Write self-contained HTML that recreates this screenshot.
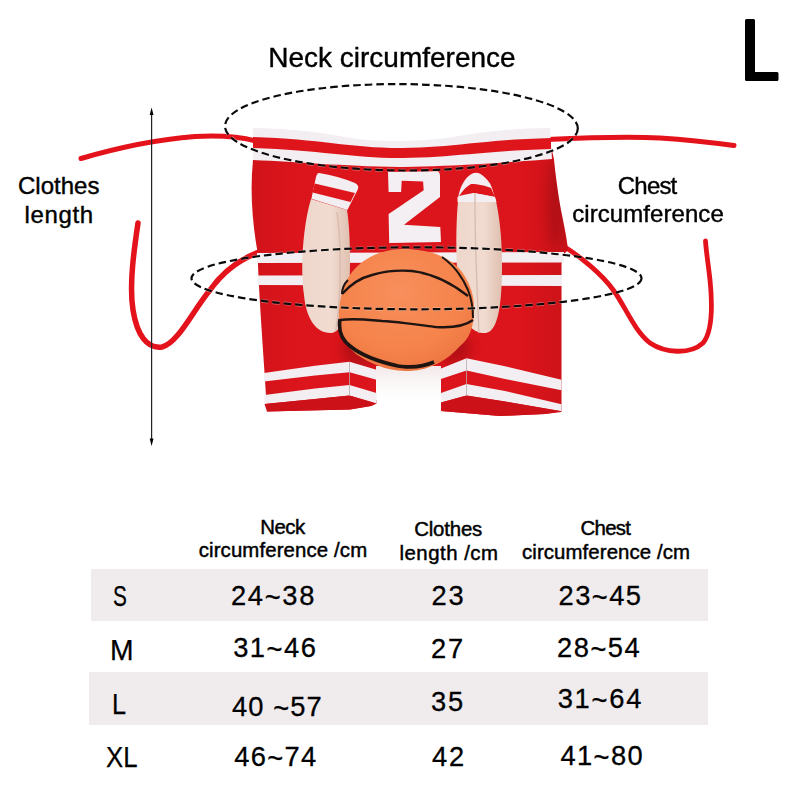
<!DOCTYPE html>
<html><head><meta charset="utf-8">
<style>
html,body{margin:0;padding:0;background:#fff;}
body{width:800px;height:800px;position:relative;overflow:hidden;font-family:"Liberation Sans",sans-serif;color:#000;}
.t{position:absolute;white-space:pre;line-height:1;-webkit-text-stroke:0.35px #000;}
.tl{position:relative;top:2px;}
.stripe{position:absolute;background:#f0ecee;}
svg{position:absolute;left:0;top:0;}
</style></head><body>
<div class="stripe" style="left:91px;top:569px;width:617px;height:52px;"></div>
<div class="stripe" style="left:89px;top:672px;width:619px;height:52.5px;"></div>
<svg width="800" height="800" viewBox="0 0 800 800">
  <defs>
    <radialGradient id="ballg" cx="0.45" cy="0.35" r="0.7">
      <stop offset="0" stop-color="#f88f5c"/>
      <stop offset="0.7" stop-color="#f5824a"/>
      <stop offset="1" stop-color="#ec7440"/>
    </radialGradient>
    <linearGradient id="skinL" x1="0" y1="0" x2="1" y2="0">
      <stop offset="0" stop-color="#eed6cb"/>
      <stop offset="0.6" stop-color="#f1dbd0"/>
      <stop offset="1" stop-color="#dfc0b0"/>
    </linearGradient>
    <linearGradient id="bodyshade" x1="0" y1="0" x2="1" y2="0">
      <stop offset="0" stop-color="#000" stop-opacity="0.05"/>
      <stop offset="0.15" stop-color="#000" stop-opacity="0"/>
      <stop offset="0.85" stop-color="#000" stop-opacity="0"/>
      <stop offset="1" stop-color="#000" stop-opacity="0.08"/>
    </linearGradient>
    <linearGradient id="crotch" x1="0" y1="0" x2="0" y2="1">
      <stop offset="0" stop-color="#f3e9e9"/>
      <stop offset="0.5" stop-color="#fbf7f7"/>
      <stop offset="1" stop-color="#ffffff"/>
    </linearGradient>
    <filter id="blur6" x="-50%" y="-50%" width="200%" height="200%"><feGaussianBlur stdDeviation="6"/></filter>
    <clipPath id="bodyclip"><path d="M253,150 L552,150 L554,159.5 C556,180 559,200 562,215 C565,230 567,240 568,250 L562,256 L561.5,265 L561.5,412 L545,414 L500,416 L441,411 L441,372 L376.5,369 L376.5,403.4 L371,406 L350,409.5 L267,411.5 C264,360 259,300 257.5,252 C252,220 250,190 253,160 Z"/></clipPath>
  </defs>
  <!-- left top cord -->
  <path d="M81,158.5 C110,150 150,140 195,136.5 C225,135 245,138 256,141" fill="none" stroke="#e3121b" stroke-width="5" stroke-linecap="round"/>
  <!-- right top cord -->
  <path d="M548,139.5 C590,137.5 630,136.5 660,138 C690,140 715,143 734,145.5" fill="none" stroke="#e3121b" stroke-width="5" stroke-linecap="round"/>
  <!-- left lower cord -->
  <path d="M138,223 C134,250 129,285 133,310 C137,335 147,349 162,347 C178,343 192,312 210,290 C222,273 238,260 259,252" fill="none" stroke="#e3121b" stroke-width="5.5" stroke-linecap="round"/>
  <!-- right lower cord -->
  <path d="M560,244 C580,256 602,274 614,291 C626,308 634,330 650,343 C665,353 690,355 703,343 C713,331 712,300 710,280 C708,262 706,250 705.5,241" fill="none" stroke="#e3121b" stroke-width="4.8" stroke-linecap="round"/>

  <!-- costume body -->
  <path d="M253,150 L552,150 L554,159.5 C556,180 559,200 562,215 C565,230 567,240 568,250 L562,256 L561.5,265 L561.5,412 L545,414 L500,416 L441,411 L441,372 L376.5,369 L376.5,403.4 L371,406 L350,409.5 L267,411.5 C264,360 259,300 257.5,252 C252,220 250,190 253,160 Z" fill="#dc141b"/>
  <path d="M253,150 L552,150 L554,159.5 C556,180 559,200 562,215 C565,230 567,240 568,250 L562,256 L561.5,265 L561.5,412 L545,414 L500,416 L441,411 L441,372 L376.5,369 L376.5,403.4 L371,406 L350,409.5 L267,411.5 C264,360 259,300 257.5,252 C252,220 250,190 253,160 Z" fill="url(#bodyshade)"/>
  <!-- crotch pale -->
  <path d="M376,366 L441,366 L441,400 L376,400 Z" fill="url(#crotch)"/>
  <g clip-path="url(#bodyclip)"><g filter="url(#blur6)">
    <ellipse cx="360" cy="350" rx="18" ry="16" fill="#000" opacity="0.18"/>
    <ellipse cx="455" cy="348" rx="16" ry="16" fill="#000" opacity="0.18"/>
    <ellipse cx="556" cy="205" rx="9" ry="45" fill="#000" opacity="0.14"/>
  </g></g>
  <!-- top band white -->
  <path d="M253,128 C290,128.5 325,133 345,137 C365,141 385,141 400,141 C420,141 445,139 465,135 C490,131 520,128 550,128 L552,159 C500,163 460,166 400,167 C340,166 300,162 253,160 Z" fill="#f3eef1"/>
  <!-- top band red stripe -->
  <path d="M253,137 C320,139 350,148 400,148 C450,148 480,140 551,138 L551,149 C480,151 450,158 400,158 C350,158 320,150 253,148 Z" fill="#de161c"/>
  <!-- waist bands -->
  <path d="M257,253 L564,252 L564,262.5 L257,263 Z" fill="#f3eef1"/>
  <path d="M258,275.5 L562,275 L562,286 L258,285 Z" fill="#f3eef1"/>
  <!-- left leg cuff -->
  <path d="M264,373 L315,365.75 L349.5,361.8 L376.5,369.7 L376.5,379.75 L349.5,372.3 L315,375.4 L264,381.5 Z" fill="#f3eef1"/>
  <path d="M264.5,395 L315,388.5 L349.5,385 L376.5,392.9 L376.5,403.4 L349.5,395.5 L315,399 L264.5,404 Z" fill="#f3eef1"/>
  <path d="M264.5,404 L315,399 L349.5,395.5 L376.5,403.4 L371,406 L350,409.5 L267,411.5 Z" fill="#cc1119"/>
  <path d="M349.5,362 L349.5,396" stroke="#b9a9ad" stroke-width="0.8"/>
  <!-- right leg cuff -->
  <path d="M441,368.4 L466.5,358.3 L505,366.2 L561.5,379.75 L561.5,390.25 L505,378.9 L466.5,370.6 L441,378.9 Z" fill="#f3eef1"/>
  <path d="M441,392.9 L466.5,384 L505,391.1 L561.5,404.25 L561.5,411.25 L505,401.6 L466.5,395.5 L441,402.5 Z" fill="#f3eef1"/>
  <path d="M441,402.5 L466.5,395.5 L505,401.6 L561.5,411.25 L545,414 L500,416 L441,411 Z" fill="#cc1119"/>
  <path d="M466.5,358.5 L466.5,396" stroke="#b9a9ad" stroke-width="0.8"/>

  <!-- number 2 -->
  <path d="M388,172 L437,171.3 Q440,172 440,176 L440,197 L404,224.7 L440.3,227 L441,242 L389.2,243 L388.6,214 L423.7,190.3 L423.1,181.4 L401.7,180.8 L401.1,192 L388.6,192 Z" fill="#f4eff2"/>

  <!-- left arm skin -->
  <path d="M311,199 C303,225 300,270 304,295 C306,318 316,334 332,333 C346,330 350,300 350,262 C350,240 349,222 347,210 Z" fill="url(#skinL)"/>
  <path d="M337,212 C341,240 342,290 336,330" fill="none" stroke="#d8bcae" stroke-width="1.5"/>
  <!-- left arm cuff -->
  <path d="M319,173 Q338,176 355,183 Q360,186 357.5,190 L347.4,210 L311.4,198.75 L316,177 Q317,173 319,173 Z" fill="#f3eef1"/>
  <path d="M314.6,183.5 L355,193 L350.5,202 L312.6,192.5 Z" fill="#de161c"/>
  <!-- right arm skin -->
  <path d="M458,201 C455,235 456,280 461,305 C464,322 472,334 486,333 C499,331 502,300 502,265 C502,235 499,215 496,201 Z" fill="url(#skinL)"/>
  <!-- right arm cuff -->
  <path d="M458,199 C459,190 463,180 470,175 C474,172 478,172 482,175 C486,178 490,182 492,188 L496,201 L458,201 Z" fill="#f3eef1"/>
  <path d="M459,196 C463,190 467,186 471,184 C478,184 486,186 491,188 L495,197 C488,196 480,194 474,193 C468,194 463,195 459,196 Z" fill="#de161c"/>
  <path d="M457.5,197 C463,196 468,195 474,193 C481,194 489,196 495,197 L496.5,202 L457.5,202 Z" fill="#f3eef1"/>
  <path d="M475,193 L475,202 C475,240 477,290 479,333" stroke="#d6bcae" stroke-width="1.3" fill="none"/>
  <!-- basketball -->
  <path d="M404,249 C430,249 452,258 462,272 C472,286 475,300 474,314 C473,330 468,340 460,346 C448,360 430,370 410,371 C390,372 370,364 356,354 C345,344 339,334 339,322 C338,305 342,288 348,278 C360,258 382,249 404,249 Z" fill="url(#ballg)"/>
  <path d="M342,294 C350,285 360,278 372,275 C385,271 400,270 412,271 C430,273 450,282 468,296" fill="none" stroke="#1e1412" stroke-width="2.4"/>
  <path d="M340,320 C355,318 370,320 382,321 C400,322 420,325 436,327 C452,328 465,326 473,320" fill="none" stroke="#1e1412" stroke-width="2.4"/>
  <path d="M340,319 C338,332 342,340 350,346 C362,356 380,362 398,366 C412,368 425,366 434,362" fill="none" stroke="#1e1412" stroke-width="3.6"/>
  <path d="M442,257 C452,264 462,276 468,290 C472,300 473,310 473,318" fill="none" stroke="#1e1412" stroke-width="2"/>
  <path d="M348,280 C344,284 342,290 342,294" fill="none" stroke="#1e1412" stroke-width="2"/>

  <!-- neck ellipse -->
  <ellipse cx="401.4" cy="127.3" rx="176.4" ry="43.2" transform="rotate(0.4 401.4 127.3)" fill="none" stroke="#fff" stroke-opacity="0.35" stroke-width="3.6" stroke-dasharray="7.5 4"/>
  <ellipse cx="401.4" cy="127.3" rx="176.4" ry="43.2" transform="rotate(0.4 401.4 127.3)" fill="none" stroke="#0a0a0a" stroke-width="2.2" stroke-dasharray="7.5 4"/>
  <!-- chest ellipse -->
  <ellipse cx="416.5" cy="278.3" rx="225" ry="31" fill="none" stroke="#fff" stroke-opacity="0.35" stroke-width="3.6" stroke-dasharray="7.5 4"/>
  <ellipse cx="416.5" cy="278.3" rx="225" ry="31" fill="none" stroke="#0a0a0a" stroke-width="2.2" stroke-dasharray="7.5 4"/>

  <!-- arrow -->
  <line x1="151.6" y1="113" x2="151.6" y2="440" stroke="#222" stroke-width="1.2"/>
  <path d="M151.6,107.5 L149.7,115 L153.5,115 Z" fill="#000"/>
  <path d="M151.6,446 L149.7,438.4 L153.5,438.4 Z" fill="#000"/>

  <!-- big L -->
  <path d="M746.5,19 L753.5,19 Q755,19 755,20.5 L755,72 L777,72 Q778.5,72 778.5,73.5 L778.5,79.5 Q778.5,81 777,81 L746.5,81 Q745,81 745,79.5 L745,20.5 Q745,19 746.5,19 Z" fill="#000"/>
</svg>

<div class="t" style="left:268.2px;top:43.5px;font-size:28.0px;-webkit-text-stroke:0.4px #000;">Neck circumference</div>
<div class="t" style="left:18px;top:174.4px;font-size:24.0px;-webkit-text-stroke:0.4px #000;">Clothes</div>
<div class="t" style="left:24.6px;top:202.5px;font-size:24.0px;letter-spacing:0.64px;-webkit-text-stroke:0.4px #000;">length</div>
<div class="t" style="left:617.8px;top:174px;font-size:24.0px;letter-spacing:-0.8px;-webkit-text-stroke:0.4px #000;">Chest</div>
<div class="t" style="left:572.2px;top:202.4px;font-size:24.0px;letter-spacing:0.07px;-webkit-text-stroke:0.4px #000;">circumference</div>
<div class="t" style="left:260.2px;top:516.8px;font-size:20.4px;letter-spacing:-0.47px;-webkit-text-stroke:0.45px #000;">Neck</div>
<div class="t" style="left:198.7px;top:540.4px;font-size:20.4px;letter-spacing:0.12px;-webkit-text-stroke:0.45px #000;">circumference /cm</div>
<div class="t" style="left:414.2px;top:518.5px;font-size:20.4px;letter-spacing:-0.17px;-webkit-text-stroke:0.45px #000;">Clothes</div>
<div class="t" style="left:399.5px;top:543px;font-size:20.4px;letter-spacing:0.49px;-webkit-text-stroke:0.45px #000;">length /cm</div>
<div class="t" style="left:580.6px;top:518px;font-size:20.4px;letter-spacing:-0.75px;-webkit-text-stroke:0.45px #000;">Chest</div>
<div class="t" style="left:522.1px;top:542.3px;font-size:20.4px;letter-spacing:0.08px;-webkit-text-stroke:0.45px #000;">circumference /cm</div>
<div class="t" style="left:112.5px;top:582.25px;font-size:29.2px;transform:scaleX(0.712);transform-origin:0 0;-webkit-text-stroke:0.25px #000;">S</div>
<div class="t" style="left:109.8px;top:635.6px;font-size:29.2px;transform:scaleX(0.97);transform-origin:0 0;-webkit-text-stroke:0.25px #000;">M</div>
<div class="t" style="left:111.75px;top:689.75px;font-size:29.2px;transform:scaleX(0.865);transform-origin:0 0;-webkit-text-stroke:0.25px #000;">L</div>
<div class="t" style="left:105.5px;top:743.25px;font-size:29.2px;transform:scaleX(0.882);transform-origin:0 0;-webkit-text-stroke:0.25px #000;">XL</div>
<div class="t" style="left:231px;top:582.1px;font-size:27.3px;letter-spacing:1.68px;-webkit-text-stroke:0.3px #000;">24<span class=tl>~</span>38</div>
<div class="t" style="left:233.2px;top:633.6px;font-size:27.3px;letter-spacing:1.5px;-webkit-text-stroke:0.3px #000;">31<span class=tl>~</span>46</div>
<div class="t" style="left:232px;top:692.6px;font-size:27.3px;letter-spacing:1.06px;-webkit-text-stroke:0.3px #000;">40 <span class=tl>~</span>57</div>
<div class="t" style="left:234.2px;top:743.2px;font-size:27.3px;letter-spacing:1.3px;-webkit-text-stroke:0.3px #000;">46<span class=tl>~</span>74</div>
<div class="t" style="left:431.5px;top:582.25px;font-size:27.3px;letter-spacing:1.8px;-webkit-text-stroke:0.3px #000;">23</div>
<div class="t" style="left:431px;top:635.45px;font-size:27.3px;letter-spacing:1.8px;-webkit-text-stroke:0.3px #000;">27</div>
<div class="t" style="left:431px;top:688.0px;font-size:27.3px;letter-spacing:1.8px;-webkit-text-stroke:0.3px #000;">35</div>
<div class="t" style="left:432px;top:742.65px;font-size:27.3px;letter-spacing:1.8px;-webkit-text-stroke:0.3px #000;">42</div>
<div class="t" style="left:558.5px;top:581.85px;font-size:27.3px;letter-spacing:1.45px;-webkit-text-stroke:0.3px #000;">23<span class=tl>~</span>45</div>
<div class="t" style="left:557px;top:634.1px;font-size:27.3px;letter-spacing:1.5px;-webkit-text-stroke:0.3px #000;">28<span class=tl>~</span>54</div>
<div class="t" style="left:557.7px;top:685.2px;font-size:27.3px;letter-spacing:1.75px;-webkit-text-stroke:0.3px #000;">31<span class=tl>~</span>64</div>
<div class="t" style="left:560.5px;top:741.5px;font-size:27.3px;letter-spacing:1.37px;-webkit-text-stroke:0.3px #000;">41<span class=tl>~</span>80</div>
</body></html>
